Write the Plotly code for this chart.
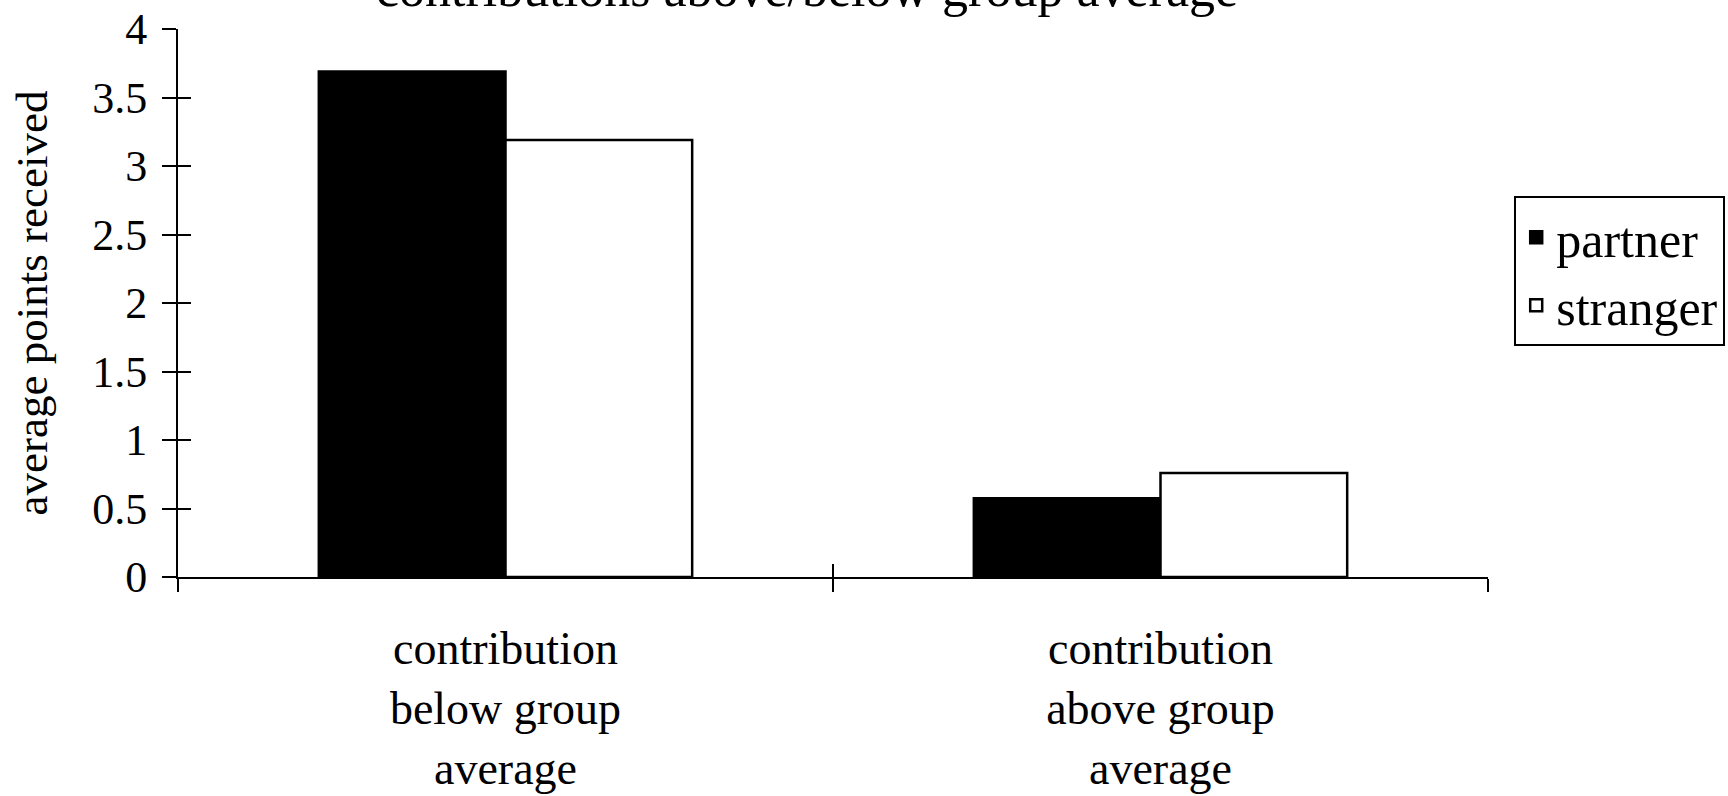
import plotly.graph_objects as go

categories = ["contribution<br>below group<br>average", "contribution<br>above group<br>average"]
partner = [3.69, 0.575]
stranger = [3.19, 0.76]
series_names = ["partner", "stranger"]
y_ticks = [0, 0.5, 1, 1.5, 2, 2.5, 3, 3.5, 4]
y_ticktext = ["0", "0.5", "1", "1.5", "2", "2.5", "3", "3.5", "4"]
title_text = "contributions above/below group average"

FONT = "Liberation Serif"
fig = go.Figure()
fig.add_trace(go.Bar(name=series_names[0], x=categories, y=partner,
                     marker=dict(color="black", line=dict(color="black", width=2.5))))
fig.add_trace(go.Bar(name=series_names[1], x=categories, y=stranger,
                     marker=dict(color="white", line=dict(color="black", width=2.5))))
# helper trace for the inner halves of the crossing tick marks
fig.add_trace(go.Scatter(x=categories, y=[None, None], xaxis="x2", yaxis="y2",
                         showlegend=False, hoverinfo="skip"))

fig.add_annotation(text=title_text, xref="paper", yref="paper", x=0.48, y=1.074,
                   xanchor="center", yanchor="middle", showarrow=False,
                   font=dict(size=52))

fig.update_layout(
    width=1728, height=796,
    paper_bgcolor="white", plot_bgcolor="white",
    margin=dict(l=178, r=240, t=29, b=219, autoexpand=False),
    barmode="group", bargap=0.43, bargroupgap=0,
    font=dict(family=FONT, size=44, color="black"),
    xaxis=dict(type="category", range=[-0.5, 1.5], showline=True, linecolor="black", linewidth=2,
               ticks="outside", tickson="boundaries", ticklen=13, tickwidth=2, tickcolor="black",
               showgrid=False, ticklabelstandoff=30, tickfont=dict(size=46), automargin=False),
    xaxis2=dict(type="category", overlaying="x", matches="x", showline=False,
                ticks="inside", tickson="boundaries", ticklen=13, tickwidth=2, tickcolor="black",
                showticklabels=False, showgrid=False, anchor="y2", automargin=False),
    yaxis=dict(range=[0, 4], tickvals=y_ticks, ticktext=y_ticktext, showline=True,
               linecolor="black", linewidth=2, ticks="outside", ticklen=14, tickwidth=2,
               tickcolor="black", showgrid=False, zeroline=False, tickfont=dict(size=44),
               ticklabelstandoff=6, automargin=False,
               title=dict(text="average points received", font=dict(size=45), standoff=30)),
    yaxis2=dict(range=[0, 4], overlaying="y", matches="y", tickvals=y_ticks, showline=False,
                ticks="inside", ticklen=13, tickwidth=2, tickcolor="black",
                showticklabels=False, showgrid=False, zeroline=False, anchor="x2", automargin=False),
    legend=dict(x=1.02, xanchor="left", y=0.695, yanchor="top",
                bordercolor="black", borderwidth=2, bgcolor="white",
                font=dict(size=50), tracegroupgap=0, itemwidth=30),
)

fig.write_html("out.html", config={"displayModeBar": False},
               post_script="document.body.style.margin='0';")
